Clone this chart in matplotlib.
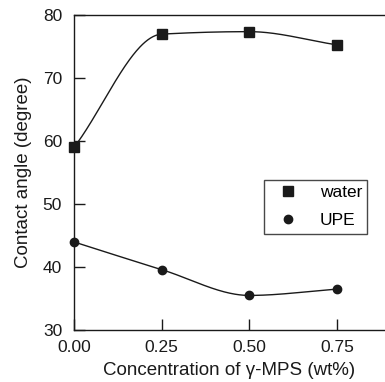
import numpy as np
import matplotlib
matplotlib.use('Agg')
import matplotlib.pyplot as plt

plt.rcParams['font.family'] = ['Liberation Sans', 'DejaVu Sans']

conc = [0.0, 0.25, 0.50, 0.75]
water = [59.0, 77.0, 77.4, 75.3]
upe = [44.0, 39.6, 35.5, 36.5]
xticks = [0.0, 0.25, 0.50, 0.75]
yticks = [30, 40, 50, 60, 70, 80]

ink = '#1a1a1a'


def pchip(x, y, xs):
    # monotone cubic (Fritsch-Carlson) through the points
    x = np.asarray(x, float)
    y = np.asarray(y, float)
    h = np.diff(x)
    d = np.diff(y) / h
    m = np.zeros_like(y)
    for i in range(1, len(x) - 1):
        if d[i - 1] * d[i] > 0:
            w1 = 2 * h[i] + h[i - 1]
            w2 = h[i] + 2 * h[i - 1]
            m[i] = (w1 + w2) / (w1 / d[i - 1] + w2 / d[i])
    m[0] = d[0]
    m[-1] = d[-1]
    k = np.clip(np.searchsorted(x, xs) - 1, 0, len(x) - 2)
    t = (xs - x[k]) / h[k]
    h00 = 2 * t**3 - 3 * t**2 + 1
    h10 = t**3 - 2 * t**2 + t
    h01 = -2 * t**3 + 3 * t**2
    h11 = t**3 - t**2
    return h00 * y[k] + h10 * h[k] * m[k] + h01 * y[k + 1] + h11 * h[k] * m[k + 1]


fig = plt.figure(figsize=(3.85, 3.82), dpi=100)
ax = fig.add_axes([0.192, 0.136, 0.808, 0.824])

xs = np.linspace(0, 0.75, 300)
ax.plot(xs, pchip(conc, water, xs), color=ink, lw=1.0)
ax.plot(xs, pchip(conc, upe, xs), color=ink, lw=1.0)

ax.plot(conc, water, 's', color=ink, ms=7, ls='none', label='water', clip_on=False, zorder=3)
ax.plot(conc, upe, 'o', color=ink, ms=6, ls='none', label='UPE', clip_on=False, zorder=3)

ax.set_xlim(0, 0.887)
ax.set_ylim(30, 80)
ax.set_xticks(xticks)
ax.set_xticklabels(['0.00', '0.25', '0.50', '0.75'])
ax.set_yticks(yticks)
ax.tick_params(direction='in', length=8, width=1, color=ink, labelsize=12.5, labelcolor=ink)
ax.tick_params(axis='x', pad=7.5)
ax.tick_params(axis='y', pad=8.5)
ax.spines['right'].set_visible(False)
for s in ['left', 'top', 'bottom']:
    ax.spines[s].set_color(ink)
    ax.spines[s].set_linewidth(1.0)

ax.set_xlabel('Concentration of γ-MPS (wt%)', fontsize=13.5, color=ink, labelpad=5)
ax.set_ylabel('Contact angle (degree)', fontsize=13.5, color=ink, labelpad=8)

leg = fig.legend(loc='upper left', bbox_to_anchor=(0.686, 0.529), fontsize=12.5,
                 frameon=True, fancybox=False, edgecolor=ink, handletextpad=0.7,
                 borderpad=0.3, labelspacing=0.75, handlelength=2.2, borderaxespad=0)
leg.get_frame().set_linewidth(1.0)

fig.savefig('out.png', dpi=100)
